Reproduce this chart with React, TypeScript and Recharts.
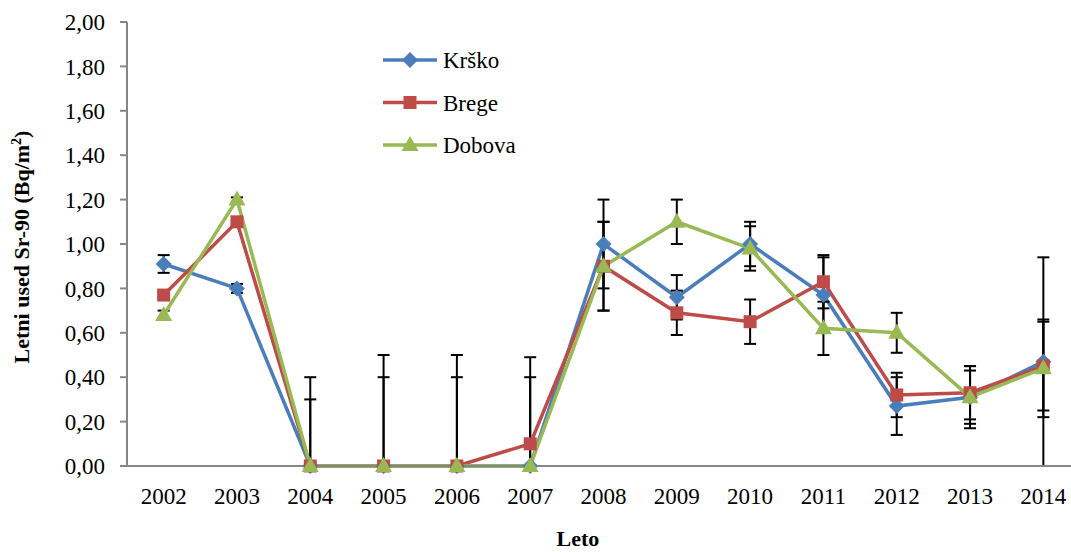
import React from 'react'
import {
  LineChart, Line, XAxis, YAxis, ErrorBar, Legend, Label,
} from 'recharts'

// leta na osi X
const years = ['2002', '2003', '2004', '2005', '2006', '2007', '2008', '2009', '2010', '2011', '2012', '2013', '2014']

const krsko  = [0.91, 0.80, 0, 0, 0, 0,    1.00, 0.76, 1.00, 0.77, 0.27, 0.31, 0.47]
const brege  = [0.77, 1.10, 0, 0, 0, 0.10, 0.90, 0.69, 0.65, 0.83, 0.32, 0.33, 0.45]
const dobova = [0.68, 1.20, 0, 0, 0, 0,    0.90, 1.10, 0.98, 0.62, 0.60, 0.31, 0.44]

// negotovosti [spodaj, zgoraj]
const krskoErr: [number, number][] = [
  [0.04, 0.04], [0.02, 0.02], [0, 0.30], [0, 0.40], [0, 0.40], [0, 0.40],
  [0.20, 0.20], [0.10, 0.10], [0.10, 0.10], [0.17, 0.17], [0.13, 0.13], [0.14, 0.14], [0.47, 0.47],
]
const bregeErr: [number, number][] = [
  [0.01, 0.01], [0.01, 0.01], [0, 0.40], [0, 0.50], [0, 0.50], [0.10, 0.39],
  [0.20, 0.20], [0.10, 0.10], [0.10, 0.10], [0.12, 0.12], [0.10, 0.10], [0.12, 0.12], [0.20, 0.20],
]
const dobovaErr: [number, number][] = [
  [0.02, 0.02], [0.01, 0.01], [0, 0], [0, 0], [0, 0], [0, 0],
  [0.20, 0.20], [0.10, 0.10], [0.10, 0.10], [0.12, 0.12], [0.09, 0.09], [0.12, 0.12], [0.22, 0.22],
]

const yTicks = [0, 0.2, 0.4, 0.6, 0.8, 1.0, 1.2, 1.4, 1.6, 1.8, 2.0]

const data = years.map((y, i) => ({
  i,
  krsko: krsko[i], brege: brege[i], dobova: dobova[i],
  krskoErr: krskoErr[i], bregeErr: bregeErr[i], dobovaErr: dobovaErr[i],
}))

const labelTicks = years.map((_, i) => i)
const boundTicks = [...years.map((_, i) => i - 0.5), years.length - 0.5]

const BLUE = '#4A7EBB'
const RED = '#BE4B48'
const GREEN = '#98B954'
const AXIS = '#868686'
const FONT = 'Liberation Serif'

const shapePath = (kind: string, cx: number, cy: number) => {
  if (kind === 'diamond') return `M${cx},${cy - 8}L${cx + 8},${cy}L${cx},${cy + 8}L${cx - 8},${cy}Z`
  if (kind === 'square') return `M${cx - 6.5},${cy - 6.5}h13v13h-13Z`
  return `M${cx},${cy - 9}L${cx + 8.5},${cy + 6}L${cx - 8.5},${cy + 6}Z`
}

const makeDot = (kind: string, color: string) => (props: any) => {
  const { cx, cy, index } = props
  if (cx == null || cy == null) return <g key={`${kind}-${index}`} />
  return <path key={`${kind}-${index}`} d={shapePath(kind, cx, cy)} fill={color} />
}

const SERIES = [
  { key: 'krsko', name: 'Krško', color: BLUE, shape: 'diamond' },
  { key: 'brege', name: 'Brege', color: RED, shape: 'square' },
  { key: 'dobova', name: 'Dobova', color: GREEN, shape: 'triangle' },
]

const renderLegend = () => (
  <svg width={200} height={130} style={{ display: 'block' }}>
    {SERIES.map((s, k) => (
      <g key={s.key} transform={`translate(0, ${21 + k * 42.5})`}>
        <line x1={0} y1={0} x2={54} y2={0} stroke={s.color} strokeWidth={3.5} />
        <path d={shapePath(s.shape, 27, 0)} fill={s.color} />
        <text x={60} y={8} fontFamily={FONT} fontSize={23} fill="#000">{s.name}</text>
      </g>
    ))}
  </svg>
)

const fmt = (v: number) => v.toFixed(2).replace('.', ',')

const tickStyle = { fontFamily: FONT, fontSize: 23, fill: '#000' }

export default function App() {
  return (
    <div style={{ position: 'absolute', left: 0, top: 0, width: 1071, height: 552, overflow: 'hidden', background: '#fff' }}>
      <LineChart width={1080} height={552} data={data} margin={{ top: 22, right: 0, left: 0, bottom: 0 }}>
        <XAxis
          xAxisId="b" type="number" dataKey="i" domain={[-0.5, 12.5]} ticks={boundTicks}
          height={0} axisLine={false} tickLine={{ stroke: AXIS, strokeWidth: 2 }} tickSize={8}
          tickFormatter={() => ''} allowDataOverflow
        />
        <XAxis
          type="number" dataKey="i" domain={[-0.5, 12.5]} ticks={labelTicks} height={86}
          axisLine={{ stroke: AXIS, strokeWidth: 2 }} tickLine={false} tickSize={8} tickMargin={14}
          tickFormatter={(v: number) => years[v] ?? ''}
          tick={tickStyle}
          allowDataOverflow
        >
          <Label content={() => (
            <text x={578} y={546} textAnchor="middle" fontFamily={FONT} fontSize={22} fontWeight="bold" fill="#000">Leto</text>
          )} />
        </XAxis>
        <YAxis
          width={127} domain={[0, 2]} ticks={yTicks} tickFormatter={fmt}
          axisLine={{ stroke: AXIS, strokeWidth: 2 }} tickLine={{ stroke: AXIS, strokeWidth: 2 }}
          tickSize={7} tickMargin={15}
          tick={tickStyle}
        >
          <Label content={() => (
            <text x={29} y={247} transform="rotate(-90 29 247)" textAnchor="middle"
              fontFamily={FONT} fontSize={22} fontWeight="bold" fill="#000">
              Letni used Sr-90 (Bq/m<tspan dy={-8} fontSize={14}>2</tspan><tspan dy={8}>)</tspan>
            </text>
          )} />
        </YAxis>
        <Legend
          content={renderLegend} layout="vertical" align="center" verticalAlign="middle"
          wrapperStyle={{ left: 383, top: 39, width: 200, height: 130 }}
        />
        {SERIES.map(s => (
          <Line
            key={s.key} dataKey={s.key} name={s.name} stroke={s.color} strokeWidth={3.5}
            dot={makeDot(s.shape, s.color)} activeDot={false} isAnimationActive={false}
          >
            <ErrorBar dataKey={`${s.key}Err`} direction="y" width={6} stroke="#000" strokeWidth={2} />
          </Line>
        ))}
      </LineChart>
    </div>
  )
}
